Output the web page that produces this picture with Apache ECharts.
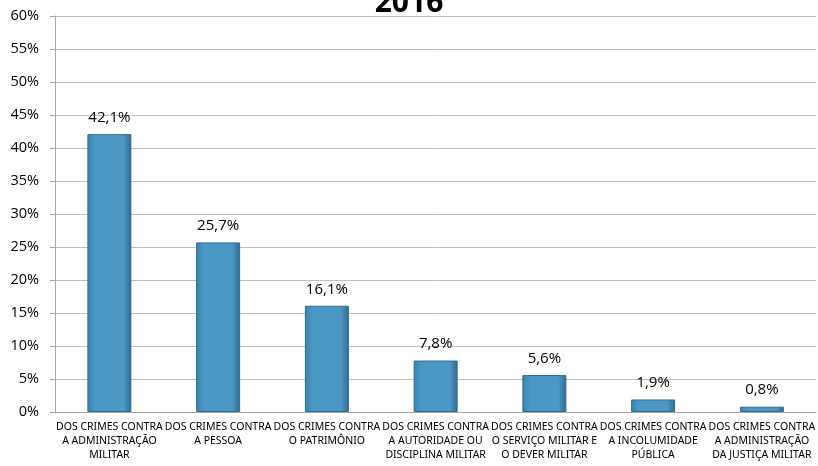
<!DOCTYPE html>
<html>
<head>
<meta charset="utf-8">
<style>
    html, body { margin: 0; padding: 0; background: #fff; }
    #chart1 { width: 818px; height: 466px; }
</style>
<script src="https://cdn.jsdelivr.net/npm/echarts@6/dist/echarts.min.js"></script>
</head>
<body>
<div id="chart1"></div>
<script>
    // categorias e valores (%)
    var categories = [
        'DOS CRIMES CONTRA\nA ADMINISTRAÇÃO\nMILITAR',
        'DOS CRIMES CONTRA\nA PESSOA',
        'DOS CRIMES CONTRA\nO PATRIMÔNIO',
        'DOS CRIMES CONTRA\nA AUTORIDADE OU\nDISCIPLINA MILITAR',
        'DOS CRIMES CONTRA\nO SERVIÇO MILITAR E\nO DEVER MILITAR',
        'DOS CRIMES CONTRA\nA INCOLUMIDADE\nPÚBLICA',
        'DOS CRIMES CONTRA\nA ADMINISTRAÇÃO\nDA JUSTIÇA MILITAR'
    ];
    var values = [42.1, 25.7, 16.1, 7.8, 5.6, 1.9, 0.8];
    var yMin = 0, yMax = 60, yStep = 5;

    var chart = echarts.init(document.getElementById('chart1'));
    chart.setOption({
        animation: false,
        title: {
            text: '2016', left: 'center', top: -17,
            textStyle: { fontSize: 30, fontWeight: 'bold', color: '#000', fontFamily: 'Open Sans' }
        },
        grid: { left: 55, right: -1, top: 16, bottom: 54, containLabel: false },
        xAxis: {
            type: 'category',
            data: categories,
            axisLine: { lineStyle: { color: '#a6a6a6' } },
            axisTick: { length: 5, lineStyle: { color: '#a6a6a6' } },
            axisLabel: {
                interval: 0, margin: 8, color: '#000', fontSize: 10.5, lineHeight: 14,
                fontFamily: 'Noto Sans'
            }
        },
        yAxis: {
            type: 'value',
            min: yMin, max: yMax, interval: yStep,
            axisLine: { show: true, lineStyle: { color: '#a6a6a6' } },
            axisTick: { show: true, length: 5, lineStyle: { color: '#a6a6a6' } },
            splitLine: { lineStyle: { color: '#bfbfbf' } },
            axisLabel: {
                formatter: '{value}%', color: '#000', fontSize: 14.5, margin: 16,
                fontFamily: 'Open Sans'
            }
        },
        series: [{
            type: 'bar',
            data: values,
            barWidth: 44,
            itemStyle: {
                borderColor: '#2f6e94', borderWidth: 1,
                color: {
                    type: 'linear', x: 0, y: 0, x2: 1, y2: 0,
                    colorStops: [
                        { offset: 0, color: '#3b82ad' },
                        { offset: 0.18, color: '#4b98c5' },
                        { offset: 0.82, color: '#4b98c5' },
                        { offset: 1, color: '#2f6a8e' }
                    ]
                }
            },
            label: {
                show: true, position: 'top', distance: 9, color: '#000', fontSize: 15,
                fontFamily: 'Open Sans',
                formatter: function (p) { return p.value.toFixed(1).replace('.', ',') + '%'; }
            }
        }]
    });
</script>
</body>
</html>
